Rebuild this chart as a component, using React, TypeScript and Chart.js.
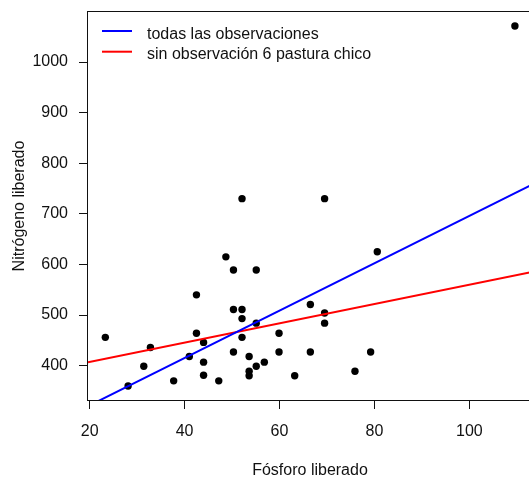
import { useEffect, useRef } from "react";
import { Chart, registerables } from "chart.js";

Chart.register(...registerables);

// Fósforo y nitrógeno liberados por parcela
const fosforo = [
  23.3, 28.1, 31.4, 32.8, 37.7, 41.0, 42.5, 42.5, 44.0, 44.0, 44.0, 47.2, 48.7,
  50.3, 50.3, 50.3, 52.1, 52.1, 52.1, 52.1, 53.6, 53.6, 53.6, 55.1, 55.1, 55.1,
  56.8, 59.9, 59.9, 63.2, 66.5, 66.5, 69.5, 69.5, 69.5, 75.9, 79.2, 80.6, 109.6,
];
const nitrogeno = [
  456, 360, 399, 436, 370, 418, 540, 464, 446, 407, 381, 370, 615,
  589, 511, 427, 730, 511, 493, 456, 418, 389, 380, 589, 484, 399,
  407, 464, 427, 380, 521, 427, 730, 504, 484, 389, 427, 625, 1071,
];

// Rectas de regresión (ordenada al origen, pendiente)
const ajusteTodas = { intercept: 228, slope: 4.68 };
const ajusteSin6 = { intercept: 369.3, slope: 1.906 };
const etiquetas = ["todas las observaciones", "sin observación 6 pastura chico"];
const colores = ["#0000ff", "#ff0000"];

const xTicks = [20, 40, 60, 80, 100];
const yTicks = [400, 500, 600, 700, 800, 900, 1000];
const xLimits = [19.65, 113.2];
const yLimits = [332.2, 1098.8];

const FONT = "'Liberation Sans', Arial, sans-serif";
const INK = "#111";

function recta(fit: { intercept: number; slope: number }) {
  return xLimits.map((x) => ({ x, y: fit.intercept + fit.slope * x }));
}

// Marco completo del área de gráfico
const marco = {
  id: "marco",
  afterDraw(chart: any) {
    const { ctx, chartArea: a } = chart;
    ctx.save();
    ctx.strokeStyle = INK;
    ctx.lineWidth = 1;
    ctx.strokeRect(Math.round(a.left) - 0.5, Math.round(a.top) - 0.5, a.right - a.left, a.bottom - a.top + 1);
    ctx.restore();
  },
};

// Leyenda sin recuadro en la esquina superior izquierda
const leyenda = {
  id: "leyenda",
  afterDraw(chart: any) {
    const { ctx, chartArea: a } = chart;
    ctx.save();
    ctx.font = `16px ${FONT}`;
    ctx.textBaseline = "alphabetic";
    ctx.textAlign = "left";
    const lines = chart.data.datasets.filter((d: any) => d.type === "line");
    lines.forEach((d: any, i: number) => {
      const yLine = a.top + 19 + i * 20.7;
      ctx.strokeStyle = d.borderColor;
      ctx.lineWidth = 2;
      ctx.beginPath();
      ctx.moveTo(a.left + 14, yLine);
      ctx.lineTo(a.left + 44, yLine);
      ctx.stroke();
      ctx.fillStyle = INK;
      ctx.fillText(d.label, a.left + 59, yLine + 7.5);
    });
    ctx.restore();
  },
};

const tickFont = { family: FONT, size: 16 };

export default function App() {
  const ref = useRef<HTMLCanvasElement>(null);

  useEffect(() => {
    if (!ref.current) return;
    const chart = new Chart(ref.current, {
      type: "scatter",
      data: {
        datasets: [
          {
            type: "line",
            label: etiquetas[0],
            data: recta(ajusteTodas),
            borderColor: colores[0],
            borderWidth: 2,
            pointRadius: 0,
            clip: 0,
            order: 0,
          } as any,
          {
            type: "line",
            label: etiquetas[1],
            data: recta(ajusteSin6),
            borderColor: colores[1],
            borderWidth: 2,
            pointRadius: 0,
            clip: 0,
            order: 1,
          } as any,
          {
            type: "scatter",
            label: "observaciones",
            data: fosforo.map((x, i) => ({ x, y: nitrogeno[i] })),
            backgroundColor: "#000",
            borderWidth: 0,
            pointRadius: 3.7,
            order: 2,
          },
        ],
      },
      options: {
        responsive: false,
        animation: false,
        devicePixelRatio: 1,
        layout: { padding: { top: 12, right: 8, left: 0, bottom: 0 } },
        plugins: { legend: { display: false }, tooltip: { enabled: false } },
        scales: {
          x: {
            type: "linear",
            min: xLimits[0],
            max: xLimits[1],
            afterBuildTicks: (s: any) => {
              s.ticks = xTicks.map((value) => ({ value }));
            },
            afterFit: (s: any) => {
              s.height = 79;
              s.paddingLeft = 0;
              s.paddingRight = 0;
            },
            grid: { drawOnChartArea: false, drawTicks: true, tickLength: 9, color: INK },
            border: { display: false },
            ticks: {
              color: INK,
              font: tickFont,
              padding: 13,
              maxRotation: 0,
              callback: (v: any) => String(v),
            },
            title: {
              display: true,
              text: "Fósforo liberado",
              color: INK,
              font: tickFont,
              padding: { top: 0, bottom: -1 },
            },
          },
          y: {
            type: "linear",
            min: yLimits[0],
            max: yLimits[1],
            afterBuildTicks: (s: any) => {
              s.ticks = yTicks.map((value) => ({ value }));
            },
            afterFit: (s: any) => {
              s.width = 88;
              s.paddingTop = 0;
              s.paddingBottom = 0;
            },
            grid: { drawOnChartArea: false, drawTicks: true, tickLength: 9, color: INK },
            border: { display: false },
            ticks: {
              color: INK,
              font: tickFont,
              padding: 11,
              callback: (v: any) => String(v),
            },
            title: {
              display: true,
              text: "Nitrógeno liberado",
              color: INK,
              font: tickFont,
              padding: { top: 10, bottom: 0 },
            },
          },
        },
      },
      plugins: [marco, leyenda],
    });
    return () => chart.destroy();
  }, []);

  return (
    <div
      style={{
        position: "fixed",
        left: 0,
        top: 0,
        width: 529,
        height: 479,
        overflow: "hidden",
        background: "#fff",
      }}
    >
      <canvas ref={ref} width={540} height={479} style={{ display: "block", width: 540, height: 479 }} />
    </div>
  );
}
